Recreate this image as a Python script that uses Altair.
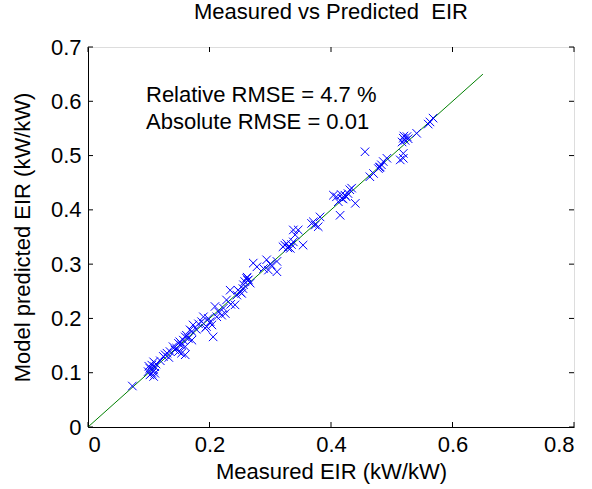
import altair as alt
import pandas as pd

# Measured EIR (x) and model predicted EIR (y)
measured = [
    0.073,
    0.108, 0.105, 0.110, 0.102, 0.108, 0.105, 0.099, 0.110, 0.102, 0.108, 0.112, 0.100,
    0.140, 0.135, 0.143, 0.149, 0.130, 0.127, 0.124, 0.154, 0.160, 0.119, 0.133, 0.146,
    0.173, 0.168, 0.171, 0.162, 0.160, 0.165, 0.157, 0.151, 0.154, 0.149, 0.160, 0.171,
    0.198, 0.190, 0.187, 0.201, 0.195, 0.204, 0.206, 0.193, 0.182, 0.178,
    0.228, 0.223, 0.209, 0.215, 0.220, 0.226, 0.212, 0.235,
    0.250, 0.247, 0.234, 0.245, 0.242, 0.253, 0.255, 0.251,
    0.261, 0.258, 0.264, 0.256, 0.267, 0.262, 0.263,
    0.294, 0.272, 0.302, 0.289, 0.297, 0.311, 0.278, 0.300, 0.311,
    0.338, 0.346, 0.341, 0.324, 0.330, 0.327, 0.333, 0.321, 0.354, 0.338, 0.329, 0.335,
    0.368, 0.374, 0.382, 0.379, 0.371,
    0.409, 0.418, 0.423, 0.431, 0.434, 0.428, 0.412, 0.440, 0.415, 0.404, 0.420, 0.425, 0.417,
    0.464, 0.470, 0.456,
    0.481, 0.478, 0.483, 0.486, 0.492, 0.480,
    0.519, 0.514, 0.519,
    0.519, 0.522, 0.525, 0.517, 0.520, 0.527,
    0.541, 0.563, 0.568, 0.560,
]
predicted = [
    0.0755,
    0.120, 0.114, 0.111, 0.108, 0.105, 0.099, 0.102, 0.099, 0.096, 0.093, 0.116, 0.112,
    0.148, 0.139, 0.142, 0.139, 0.136, 0.133, 0.130, 0.136, 0.133, 0.122, 0.128, 0.145,
    0.188, 0.179, 0.176, 0.169, 0.166, 0.163, 0.160, 0.157, 0.151, 0.154, 0.148, 0.160,
    0.200, 0.203, 0.194, 0.194, 0.185, 0.188, 0.166, 0.182, 0.190, 0.180,
    0.234, 0.219, 0.222, 0.212, 0.206, 0.209, 0.203, 0.226,
    0.249, 0.252, 0.252, 0.243, 0.225, 0.246, 0.255, 0.248,
    0.274, 0.268, 0.271, 0.262, 0.265, 0.276, 0.270,
    0.308, 0.302, 0.298, 0.292, 0.289, 0.286, 0.295, 0.300, 0.305,
    0.363, 0.363, 0.354, 0.335, 0.332, 0.338, 0.329, 0.332, 0.335, 0.341, 0.330, 0.336,
    0.375, 0.372, 0.387, 0.369, 0.378,
    0.424, 0.421, 0.427, 0.437, 0.440, 0.430, 0.415, 0.412, 0.390, 0.427, 0.420, 0.424, 0.428,
    0.461, 0.467, 0.507,
    0.479, 0.476, 0.483, 0.489, 0.495, 0.478,
    0.504, 0.492, 0.495,
    0.532, 0.528, 0.535, 0.525, 0.536, 0.531,
    0.541, 0.562, 0.569, 0.558,
]

line_x = [0, 0.65]
line_y = [0, 0.65]

x_ticks = [0, 0.2, 0.4, 0.6, 0.8]
y_ticks = [0, 0.1, 0.2, 0.3, 0.4, 0.5, 0.6, 0.7]

notes = ["Relative RMSE = 4.7 %", "Absolute RMSE = 0.01"]

W, H = 486, 380
FONT = "Liberation Sans"
FS = 22

pts = pd.DataFrame({"m": measured, "p": predicted})
ln = pd.DataFrame({"m": line_x, "p": line_y})
xt = pd.DataFrame({"v": x_ticks})
yt = pd.DataFrame({"v": y_ticks})

xscale = alt.Scale(domain=[0, 0.8], nice=False)
yscale = alt.Scale(domain=[0, 0.7], nice=False)

lab = "datum.value == 0 ? '0' : format(datum.value, '.1f')"

xaxis = alt.Axis(values=x_ticks, labelExpr=lab, title="Measured EIR (kW/kW)", ticks=False,
                 grid=False, labelFontSize=FS, titleFontSize=FS, labelPadding=7,
                 titlePadding=6, labelFont=FONT, titleFont=FONT, titleFontWeight="normal",
                 domainColor="black", labelColor="black", titleColor="black")
yaxis = alt.Axis(values=y_ticks, labelExpr=lab, title="Model predicted EIR (kW/kW)", ticks=False,
                 grid=False, labelFontSize=FS, titleFontSize=FS, labelPadding=7,
                 titlePadding=16, labelFont=FONT, titleFont=FONT, titleFontWeight="normal",
                 domainColor="black", labelColor="black", titleColor="black")

scatter = alt.Chart(pts).mark_point(
    shape="M-1,-1L1,1M1,-1L-1,1", filled=False, color="#0000ff", size=72, strokeWidth=1, opacity=1
).encode(
    x=alt.X("m:Q", scale=xscale, axis=xaxis),
    y=alt.Y("p:Q", scale=yscale, axis=yaxis),
)

line = alt.Chart(ln).mark_line(color="#008000", strokeWidth=1).encode(
    x=alt.X("m:Q", scale=xscale), y=alt.Y("p:Q", scale=yscale)
)

tk = 5
xb = alt.Chart(xt).mark_rule(color="black", strokeWidth=1).encode(
    x=alt.X("v:Q", scale=xscale), y=alt.value(H), y2=alt.value(H - tk))
xtop = alt.Chart(xt).mark_rule(color="black", strokeWidth=1).encode(
    x=alt.X("v:Q", scale=xscale), y=alt.value(0), y2=alt.value(tk))
yl = alt.Chart(yt).mark_rule(color="black", strokeWidth=1).encode(
    y=alt.Y("v:Q", scale=yscale), x=alt.value(0), x2=alt.value(tk))
yr = alt.Chart(yt).mark_rule(color="black", strokeWidth=1).encode(
    y=alt.Y("v:Q", scale=yscale), x=alt.value(W), x2=alt.value(W - tk))

t1 = alt.Chart(pd.DataFrame({"t": [notes[0]]})).mark_text(
    align="left", baseline="alphabetic", fontSize=FS, font=FONT, color="black"
).encode(text="t:N", x=alt.value(58), y=alt.value(55))
t2 = alt.Chart(pd.DataFrame({"t": [notes[1]]})).mark_text(
    align="left", baseline="alphabetic", fontSize=FS, font=FONT, color="black"
).encode(text="t:N", x=alt.value(58), y=alt.value(82))

chart = alt.layer(line, scatter, xb, xtop, yl, yr, t1, t2).properties(
    width=W, height=H,
    title=alt.TitleParams("Measured vs Predicted\u00a0 EIR", fontSize=FS, font=FONT,
                          fontWeight="normal", color="black", offset=12),
    autosize=alt.AutoSizeParams(type="none"),
    padding={"left": 88, "top": 47, "right": 18, "bottom": 62},
).configure_view(stroke="black", strokeWidth=1).configure(background="white")

chart.save("out.html", embed_options={"renderer": "svg", "actions": False})
